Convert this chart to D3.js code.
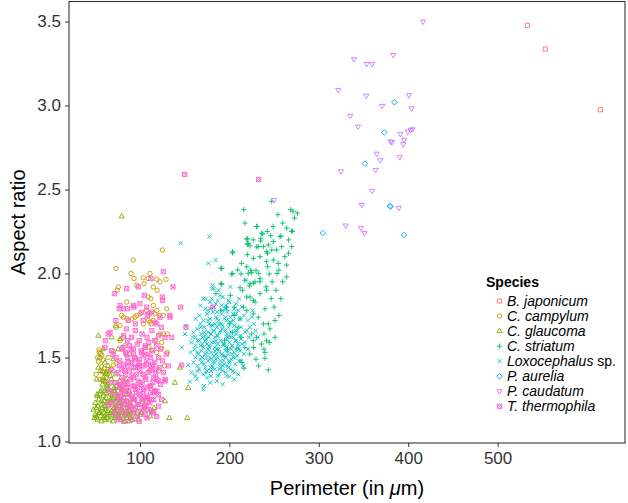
<!DOCTYPE html>
<html><head><meta charset="utf-8">
<script src="https://cdn.jsdelivr.net/npm/d3@7"></script>
<style>body{margin:0;background:#fff}svg{display:block}</style>
</head><body><svg id="c" width="628" height="503"></svg>
<script>
const species = ["B. japonicum","C. campylum","C. glaucoma","C. striatum","Loxocephalus sp.","P. aurelia","P. caudatum","T. thermophila"];
const colors = ["#F8766D","#CD9600","#7CAE00","#00BE67","#00BFC4","#00A9FF","#C77CFF","#FF61CC"];
const shapes = ["square","circle","triangle","plus","cross","diamond","triangleDown","squareCross"];
const xTicks = [100,200,300,400,500];
const yTicks = [1.0,1.5,2.0,2.5,3.0,3.5];

const bJaponicum = [[533.3,3.477],[553.3,3.336],[614.9,2.975]];
const pAurelia = [[384.5,3.019],[373.3,2.84],[351.7,2.654],[379.6,2.402],[380.4,2.398],[304.4,2.241],[395.3,2.229]];
const pCaudatum = [[416.6,3.499],[383.3,3.3],[339.4,3.275],[353.6,3.247],[359.8,3.247],[321.8,3.092],[353.1,3.058],[400.9,3.061],[371,2.997],[403.9,2.983],[335.2,2.938],[343.8,2.874],[404.6,2.858],[402.8,2.854],[399.4,2.844],[391.2,2.83],[380.4,2.785],[381.9,2.781],[395.3,2.795],[394.5,2.769],[364.8,2.713],[368.8,2.674],[390.5,2.692],[324.8,2.608],[363.6,2.616],[359.8,2.491],[348,2.408],[389.4,2.39],[330.1,2.285],[347.2,2.271],[350.9,2.241],[249.9,2.4375]];
const cGlaucoma = [[49,1.14],[52.5,1.13],[56,1.15],[59,1.14],[62,1.16],[65.5,1.13],[69,1.15],[72,1.14],[75,1.16],[78.5,1.13],[82,1.15],[85,1.14],[88,1.16],[91.5,1.13],[95,1.15],[50,1.16],[57,1.12],[63,1.14],[70,1.12],[76,1.14],[83,1.12],[89,1.14],[54,1.17],[67,1.17],[80,1.17],[93,1.17],
[48,1.19],[51,1.2],[55,1.18],[58,1.2],[61,1.19],[64,1.21],[68,1.18],[71,1.2],[74,1.19],[77,1.21],[81,1.18],[84,1.2],[87,1.19],[90,1.21],[94,1.19],[60,1.17],[73,1.17],[86,1.17],[97,1.18],
[50,1.23],[54,1.25],[57,1.22],[60,1.24],[63,1.23],[67,1.25],[70,1.22],[73,1.24],[76,1.23],[80,1.25],[83,1.22],[86,1.24],[89,1.23],[93,1.25],[62,1.26],[69,1.26],[75,1.26],[82,1.26],
[52,1.28],[56,1.3],[59,1.27],[62,1.29],[65,1.31],[69,1.28],[72,1.3],[75,1.27],[78,1.29],[82,1.31],[85,1.28],[88,1.3],[64,1.32],[71,1.32],[77,1.32],
[58,1.34],[61,1.36],[64,1.34],[68,1.37],[71,1.35],[74,1.33],[77,1.36],[81,1.34],[84,1.37],[67,1.39],[73,1.4],[62,1.41],
[52.3,1.27],[57.2,1.31],[51.5,1.37],[53.4,1.44],[55.2,1.5],[60.8,1.47],[70.2,1.49],[75.7,1.55],[68.3,1.62],[77.7,1.61],[73.1,1.69],[53.4,1.63],[55.7,1.42],[64.4,1.45],[59,1.55],[62.3,1.4],
[144.7,1.44],[139.2,1.35],[154,1.32],[128,1.24],[115.6,1.2],[114.2,1.18],[132.8,1.14],[152.9,1.14],[111.2,1.15],[101.9,1.17],[100,1.16],[98.1,1.13],[88.1,1.12],[60.8,1.13],[51.5,1.14],[79.5,2.34],[104.6,1.22],[107.8,1.19],[102.4,1.25],
[51,1.15],[55,1.17],[60,1.15],[64,1.18],[68,1.16],[72,1.18],[76,1.16],[80,1.19],[84,1.16],[88,1.18],[53,1.21],[57,1.24],[61,1.21],[66,1.23],[70,1.25],[74,1.21],[78,1.23],[55,1.28],[60,1.3],[67,1.28],[71,1.3],[63,1.33],[59,1.38],[66,1.42]];
const cCampylum = [[125,2.14],[92.5,2.08],[73.1,2.03],[89.9,2.0],[93.3,1.97],[103.7,1.975],[111.2,2.0],[109.2,1.97],[122.4,1.95],[129.1,1.965],[104.5,1.94],[114.9,1.92],[119.3,1.9],[75.7,1.92],[74.6,1.9],[96.3,1.93],[109.2,1.86],[112,1.85],[114.9,1.81],[129.9,1.79],[116.7,1.76],[113,1.7],[122.4,1.64],[126.1,1.64],[130.5,1.53],[118.7,1.53],[85.2,1.83],[79.5,1.75],[81.4,1.74],[85.2,1.73],[90.7,1.73],[96.3,1.75],[100,1.76],[107.5,1.78],[118.7,1.78],[114.9,1.72],[111.2,1.71],[103.7,1.7],[130.5,1.64],[77.7,1.69],[73.1,1.68],[124.3,1.555],[54.4,1.53],[57.2,1.515],[58.9,1.485],[53.4,1.475],[57.2,1.445],[58.9,1.415],[62.8,1.415],[70.2,1.535],[81.4,1.62],[77.7,1.6],[55.2,1.37],[58.9,1.36],[118.7,1.965],[121.6,1.75],[126.1,1.75],[94.4,1.74],[109.2,1.72],[124.3,1.59],[117.9,1.6],[109.2,1.56],[113,1.545],[54.1,1.545],[56.1,1.525],[60.1,1.435],[57.8,1.415],[58.2,1.366],[60.8,1.356],[70.2,1.455],[74,1.465],[82.9,1.57],[88.3,1.52],[64.4,1.5],[67.7,1.43],[62.3,1.38],[127.4,1.45],[120.9,1.42],[50.9,1.4],[52.5,1.5]];
const cStriatum = [[216,2.38],[268.5,2.38],[271.1,2.37],[230.9,2.28],[242.4,2.25],[237.3,2.235],[246.2,2.225],[257.7,2.223],[270.4,2.253],[220,2.207],[235,2.207],[247.3,2.43],[256.6,2.22],[258.5,2.16],[269.7,2.16],[269.7,2.25],[219.4,2.205],[220,2.174],[223.1,2.164],[235,2.193],[230.5,2.158],[238,2.16],[243.6,2.17],[203.7,2.122],[220,2.112],[242.8,2.12],[190.6,2.031],[209.3,2.021],[202.5,1.997],[213,1.997],[221.1,2.001],[224.9,2.005],[229.8,2.017],[232.8,2.001],[242.8,2.04],[244.6,1.997],[191.4,1.936],[222.3,1.926],[226.7,1.942],[234.2,1.951],[241,1.921],[211.9,1.915],[217.4,2.3],[230.5,2.28],[236.1,2.24],[249.1,2.19],[252.9,2.14],[221.1,2.18],[226.7,2.2],[232.3,2.16],[241.7,2.13],[247.4,2.14],[226.7,2.09],[234.2,2.1],[241.7,2.07],[249.1,2.08],[254.7,2.06],[191.4,2.03],[190.6,1.94],[203.7,2.13],[203.7,2.0],[213.7,2.06],[219.4,2.04],[223.8,2.02],[217.4,1.96],[223.1,1.94],[228.6,1.95],[234.2,1.97],[214.8,1.9],[219.4,1.86],[226.7,1.84],[234.2,1.88],[241.7,1.9],[223.1,1.86],[228.6,1.83],[215.6,1.8],[219.4,1.78],[226.7,1.76],[211.9,1.73],[232.3,1.74],[239.8,1.79],[243.5,1.7],[241.7,1.6],[239.8,1.53],[216.3,1.436],[243.5,1.426],[238,1.7],[245.4,1.67],[251,1.72],[224.9,1.64],[230.5,1.62],[238.7,1.64],[217.4,1.56],[226.7,1.6],[238.7,1.55],[244.6,1.59],[229.8,1.49],[239.8,1.495],
[259.7,2.3],[264.1,2.27],[266.2,2.2],[261.9,2.1],[255.4,2.02],[264.1,2.05],[259.7,1.95],[252.1,1.9],[257.6,1.85],[250,1.8],[264.1,1.98],[272.8,2.33],[276,2.36],[247.8,1.95],[253.2,2.0],[246.7,1.85],[255.4,1.75],[251.1,1.62],[248.9,2.28],[266.2,2.12],[254.3,2.35],
[194.6,1.6],[200.1,1.7],[205.5,1.8],[203.3,1.65],[209.8,1.68],[207.7,1.55],[214.2,1.47],[197.9,1.55],[222.8,1.52],[232.6,1.45],[201.1,1.87],[196.8,1.8],[205.5,1.75],[184.9,1.88],[190.3,1.78],[227.2,1.56],[235.9,1.58],[213.1,1.62]];
const loxocephalus = [[155.9,1.356],[170.8,1.31],[163.4,1.37],[171.6,1.33],[199.8,1.386],[178.4,1.35],[186,1.36],[192.5,1.34],[175.1,1.38],[205.5,1.37],
[157.7,1.41],[162.1,1.39],[166.4,1.43],[170.8,1.4],[175.1,1.42],[179.4,1.39],[183.8,1.43],[188.1,1.4],[192.5,1.42],[196.8,1.39],[201.1,1.43],[205.5,1.41],[209.8,1.4],[173,1.44],[181.6,1.44],[190.3,1.44],[199,1.44],[164.3,1.42],
[154,1.455],[159.9,1.47],[164.3,1.45],[167.5,1.49],[171.8,1.46],[176.2,1.48],[180.5,1.45],[184.9,1.49],[189.2,1.46],[193.5,1.48],[197.9,1.45],[202.2,1.49],[206.6,1.46],[210.9,1.48],[215.3,1.45],[169.7,1.5],[178.4,1.5],[187,1.5],[195.7,1.5],[204.4,1.5],[162.1,1.5],
[156.7,1.53],[161,1.55],[165.3,1.52],[168.6,1.54],[173,1.52],[176.2,1.55],[179.4,1.53],[182.7,1.51],[186,1.55],[189.2,1.53],[192.5,1.51],[195.7,1.54],[199,1.52],[202.2,1.55],[205.5,1.53],[208.7,1.51],[212,1.54],[216.3,1.52],[220.7,1.55],[170.8,1.56],[183.8,1.56],[196.8,1.56],[209.8,1.56],[146.7,1.56],
[157.7,1.59],[162.1,1.57],[166.4,1.6],[169.7,1.58],[174,1.61],[177.3,1.57],[180.5,1.59],[183.8,1.62],[187,1.58],[190.3,1.6],[193.5,1.57],[196.8,1.61],[200.1,1.59],[203.3,1.57],[206.6,1.6],[209.8,1.58],[213.1,1.61],[217.4,1.59],[221.8,1.62],[173,1.63],[186,1.63],[199,1.63],[212,1.63],
[150.4,1.64],[159.9,1.65],[164.3,1.67],[168.6,1.64],[171.8,1.68],[176.2,1.65],[179.4,1.69],[182.7,1.66],[186,1.68],[189.2,1.65],[192.5,1.69],[195.7,1.66],[199,1.68],[202.2,1.65],[205.5,1.69],[208.7,1.66],[213.1,1.68],[217.4,1.65],[222.8,1.68],[151.4,1.69],[167.5,1.7],[183.8,1.7],[201.1,1.71],
[162.1,1.73],[166.4,1.75],[170.8,1.72],[175.1,1.76],[178.4,1.73],[181.6,1.77],[184.9,1.74],[188.1,1.72],[191.4,1.76],[194.6,1.73],[197.9,1.77],[201.1,1.74],[204.4,1.72],[207.7,1.76],[212,1.73],[216.3,1.75],[220.7,1.72],[225,1.74],[176.2,1.78],[192.5,1.78],[209.8,1.78],
[167.5,1.81],[173,1.79],[178.4,1.83],[182.7,1.8],[187,1.84],[191.4,1.81],[195.7,1.79],[200.1,1.83],[205.2,1.79],[207.7,1.82],[214.2,1.8],[185,1.82],[196.2,1.81],[198.8,1.84],[189.5,1.87],[170.8,1.85],[180.2,1.85],[173.5,1.85],[192.5,1.86],[210.9,1.85],
[180.2,1.91],[182.8,1.91],[181.3,1.93],[218.2,1.96],[176.4,2.06],[184.6,2.08],[177.5,2.22],[145.5,2.18],[188.1,1.9],[201.1,1.92],
[174,1.5],[181.6,1.47],[191.4,1.52],[200.1,1.48],[175.1,1.58],[184.9,1.6],[194.6,1.58],[204.4,1.62],[179.4,1.64],[190.3,1.66],[197.9,1.62],[207.7,1.64],[177.3,1.7],[188.1,1.7],[196.8,1.72],[183.8,1.54],[203.3,1.52],[192.5,1.45],[179.4,1.42],[168.6,1.47],[214.2,1.58],[219.6,1.66],[169.7,1.62],[164.3,1.6],[158.8,1.62],[227.2,1.7],[229.4,1.66],[226.1,1.78],[231.5,1.62],
[170,1.5],[175,1.53],[180,1.49],[185,1.52],[190,1.48],[195,1.51],[200,1.47],[205,1.5],[168,1.57],[173,1.6],[178,1.56],[183,1.59],[188,1.55],[193,1.58],[198,1.54],[203,1.57],[208,1.6],[172,1.65],[177,1.62],[182,1.66],[187,1.63],[192,1.67],[197,1.64],[202,1.62],[207,1.66],[176,1.72],[181,1.69],[186,1.73],[191,1.7],[196,1.74],[201,1.71],[206,1.69],[179,1.44],[184,1.47],[189,1.43],[194,1.46],[199,1.44],[204,1.42],[187,1.39],[196,1.41],[174,1.41],[211,1.55],[213,1.48],[168,1.68],[164,1.53],[162,1.62],[186,1.77],[197,1.79],[204,1.76],[179,1.79]];
const tThermophila = [[71,1.17],[75.3,1.15],[79.6,1.18],[84,1.16],[88.3,1.19],[92.6,1.17],[97,1.15],[101.3,1.18],[105.7,1.16],[77.5,1.2],[86.1,1.2],[94.8,1.2],[103.5,1.2],[110,1.19],
[68.8,1.23],[73.1,1.21],[76.4,1.25],[80.7,1.22],[85,1.24],[89.4,1.21],[93.7,1.25],[98.1,1.22],[102.4,1.24],[106.7,1.21],[111.1,1.23],[115.4,1.25],[78.5,1.26],[91.6,1.26],[104.6,1.26],
[71,1.29],[75.3,1.27],[79.6,1.31],[82.9,1.28],[87.2,1.3],[90.5,1.27],[94.8,1.31],[99.1,1.28],[103.5,1.3],[107.8,1.27],[112.2,1.29],[116.5,1.3],[120.8,1.28],[85,1.32],[97,1.32],[109,1.32],
[73.1,1.35],[77.5,1.33],[81.8,1.36],[86.1,1.34],[89.4,1.37],[93.7,1.33],[98.1,1.36],[102.4,1.34],[106.7,1.37],[111.1,1.33],[114.3,1.35],[118.7,1.37],[123,1.34],[79.6,1.38],[92.6,1.38],[105.7,1.38],
[75.3,1.41],[79.6,1.43],[84,1.4],[88.3,1.42],[92.6,1.44],[95.9,1.4],[100.2,1.42],[104.6,1.45],[109,1.41],[113.3,1.43],[117.6,1.4],[122,1.44],[126.3,1.41],[86.1,1.45],[99.1,1.45],[112.2,1.45],
[77.5,1.48],[81.8,1.46],[86.1,1.5],[90.5,1.47],[94.8,1.49],[99.1,1.47],[103.5,1.51],[107.8,1.48],[112.2,1.5],[116.5,1.47],[120.8,1.5],[125.2,1.48],[92.6,1.52],[105.7,1.52],[73.1,1.5],
[79.6,1.55],[84,1.53],[88.3,1.57],[92.6,1.55],[97,1.58],[101.3,1.54],[105.7,1.56],[110,1.59],[114.3,1.54],[118.7,1.57],[123,1.55],[86.1,1.6],[99.1,1.6],
[81.8,1.63],[90.5,1.62],[94.8,1.66],[102.4,1.64],[107.8,1.62],[113.3,1.66],[120.8,1.63],[85,1.67],[128,1.62],[116.5,1.6],
[81.8,1.12],[90.5,1.13],[99.1,1.12],[107.8,1.14],[75.3,1.13],[115.4,1.17],[120.8,1.21],[124.1,1.25],[118.7,1.15],
[66.6,1.35],[68.8,1.42],[65.5,1.3],[69.9,1.52],[64.4,1.22],
[77.7,1.81],[92.5,1.81],[100,1.82],[76.8,1.79],[66.5,1.65],[60.8,1.56],[68.3,1.54],[86.9,1.72],[126.1,2.01],[112.3,1.97],[85.2,1.91],[98.1,1.92],[71.3,1.88],[104.8,1.87],[125,1.86],[136.9,1.92],[125.4,1.84],[145.5,1.8],[181.3,1.8],[133.5,1.74],[151.4,1.68],[135.5,1.62],[146.7,1.455],[128,1.36],[115.6,1.29],[113,1.25],[116.7,1.3],[128,1.37],[64.5,1.64],[81.4,1.79],[86.1,1.79],[93.3,1.8],[150,2.59],[232.7,2.56],[61.2,1.6],[103.5,1.72],[110,1.76],[118.7,1.7],[73.1,1.72],[94.8,1.7],[124.1,1.68],[129.5,1.52],[131.7,1.45],
[107.5,1.8],[101.9,1.77],[108.2,1.75],[113,1.77],[116.7,1.71],[122.4,1.74],[133.5,1.75],
[80,1.3],[84,1.35],[88,1.28],[92,1.33],[96,1.29],[100,1.35],[104,1.31],[108,1.26],[112,1.33],[83,1.42],[87,1.47],[91,1.39],[95,1.44],[99,1.49],[103,1.4],[107,1.46],[111,1.42],[115,1.38],[85,1.52],[90,1.55],[94,1.5],[98,1.45],[102,1.53],[106,1.57],[110,1.52],[114,1.46],[118,1.43],[88,1.22],[93,1.25],[97,1.22],[101,1.27],[105,1.21],[109,1.24],[113,1.18],[82,1.24],[78,1.34],[77,1.45],[81,1.56],[119,1.3],[121,1.36]];

const seriesData = [bJaponicum,cCampylum,cGlaucoma,cStriatum,loxocephalus,pAurelia,pCaudatum,tThermophila];

const svg = d3.select("#c");
const FONT = "'Liberation Sans', Arial, Helvetica, sans-serif";
const P = {l:69, r:625, t:1.5, b:443};
const x = d3.scaleLinear().domain([20.6,642.5]).range([P.l,P.r]);
const y = d3.scaleLinear().domain([0.991,3.619]).range([P.b,P.t]);

svg.append("rect").attr("width",628).attr("height",503).attr("fill","#fff");

function shapePath(t){
  switch(t){
    case "square": return "M-2.1,-2.1H2.1V2.1H-2.1Z";
    case "circle": return "M2.2,0A2.2,2.2 0 1,1 -2.2,0A2.2,2.2 0 1,1 2.2,0Z";
    case "triangle": return "M0,-2.9L2.6,1.6L-2.6,1.6Z";
    case "plus": return "M-2.7,0H2.7M0,-2.7V2.7";
    case "cross": return "M-2,-2L2,2M-2,2L2,-2";
    case "diamond": return "M0,-2.8L2.8,0L0,2.8L-2.8,0Z";
    case "triangleDown": return "M0,2.9L2.6,-1.6L-2.6,-1.6Z";
    case "squareCross": return "M-2.1,-2.1H2.1V2.1H-2.1ZM-2.1,-2.1L2.1,2.1M-2.1,2.1L2.1,-2.1";
  }
}

const gPts = svg.append("g");
seriesData.forEach((arr,i)=>{
  gPts.append("g").selectAll("path").data(arr).join("path")
    .attr("d",shapePath(shapes[i]))
    .attr("transform",d=>`translate(${x(d[0])},${y(d[1])})`)
    .attr("fill","none").attr("stroke",colors[i]).attr("stroke-width",0.9);
});

svg.append("rect").attr("x",P.l).attr("y",P.t).attr("width",P.r-P.l).attr("height",P.b-P.t)
  .attr("fill","none").attr("stroke","#333").attr("stroke-width",1.1);

const xAxis = svg.append("g").attr("transform",`translate(0,${P.b})`)
  .call(d3.axisBottom(x).tickValues(xTicks).tickSize(4).tickPadding(5));
const yAxis = svg.append("g").attr("transform",`translate(${P.l},0)`)
  .call(d3.axisLeft(y).tickValues(yTicks).tickSize(4).tickPadding(4).tickFormat(d3.format(".1f")));
[xAxis,yAxis].forEach(a=>{
  a.select(".domain").remove();
  a.selectAll("line").attr("stroke","#333").attr("stroke-width",1);
  a.selectAll("text").attr("font-family",FONT).attr("font-size",17).attr("fill","#333");
});

const xt = svg.append("text").attr("x",(P.l+P.r)/2).attr("y",495).attr("text-anchor","middle")
  .attr("font-family",FONT).attr("font-size",20).attr("fill","#000");
xt.append("tspan").text("Perimeter (in ");
xt.append("tspan").attr("font-style","italic").text("\u03BC");
xt.append("tspan").text("m)");
svg.append("text").attr("transform",`translate(25,${(P.t+P.b)/2}) rotate(-90)`).attr("text-anchor","middle")
  .attr("font-family",FONT).attr("font-size",20).attr("fill","#000").text("Aspect ratio");

const lg = svg.append("g");
lg.append("text").attr("x",486).attr("y",287).attr("font-family",FONT).attr("font-size",14)
  .attr("font-weight","bold").attr("fill","#000").text("Species");
species.forEach((s,i)=>{
  const cy = 301 + i*15.05;
  lg.append("path").attr("d",shapePath(shapes[i])).attr("transform",`translate(499.5,${cy})`)
    .attr("fill","none").attr("stroke",colors[i]).attr("stroke-width",0.9);
  const t = lg.append("text").attr("x",507).attr("y",cy+5).attr("font-family",FONT)
    .attr("font-size",14).attr("fill","#000");
  if (s.endsWith(" sp.")) {
    t.append("tspan").attr("font-style","italic").text(s.replace(" sp.",""));
    t.append("tspan").text(" sp.");
  } else {
    t.attr("font-style","italic").text(s);
  }
});
</script>
</body></html>
